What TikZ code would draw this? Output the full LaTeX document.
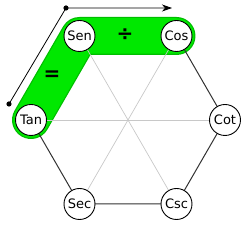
\documentclass[tikz,border=0pt]{standalone}
\usepackage{fontspec}
\setmainfont{DejaVu Sans}
\usetikzlibrary{arrows.meta}
\definecolor{bandgreen}{RGB}{0,232,0}
\definecolor{bandedge}{RGB}{0,190,0}
\definecolor{edgegray}{RGB}{50,50,50}
\definecolor{innergray}{RGB}{200,200,200}
\begin{document}
\begin{tikzpicture}[x=1pt,y=1pt,
  fn/.style={circle,draw=black,fill=white,line width=0.9pt,minimum size=31pt,inner sep=0pt,font=\fontsize{13}{15}\selectfont},
  hexedge/.style={draw=edgegray,line width=1pt},
  inner/.style={draw=innergray,line width=0.7pt},
  sign/.style={font=\fontsize{20}{22}\selectfont\bfseries}]
\useasboundingbox (0,0) rectangle (250,227);
% positions
\coordinate (pSen) at (79.5,191);
\coordinate (pCos) at (176.5,191);
\coordinate (pTan) at (31,107);
\coordinate (pCot) at (225,107);
\coordinate (pSec) at (79.5,23);
\coordinate (pCsc) at (176.5,23);
% green band
\draw[bandedge,line width=38pt,line cap=round,line join=round] (pTan) -- (pSen) -- (pCos);
\draw[bandgreen,line width=35.5pt,line cap=round,line join=round] (pTan) -- (pSen) -- (pCos);
% inner lines
\draw[inner] (pSen) -- (pCsc);
\draw[inner] (pCos) -- (pSec);
\draw[inner] (pTan) -- (pCot);
% hexagon edges
\draw[hexedge] (pCos) -- (pCot) -- (pCsc) -- (pSec) -- (pTan);
% nodes
\node[fn] (Sen) at (pSen) {Sen};
\node[fn] (Cos) at (pCos) {Cos};
\node[fn] (Tan) at (pTan) {Tan};
\node[fn] (Cot) at (pCot) {Cot};
\node[fn] (Sec) at (pSec) {Sec};
\node[fn] (Csc) at (pCsc) {Csc};
% signs
\node[sign] (div) at (125,192) {÷};
\node[sign] (eq) at (52,151) {=};
% arrow
\coordinate (a0) at (9,123);
\coordinate (a1) at (66,219);
\coordinate (a2) at (172,219);
\draw[line width=0.8pt,-{Stealth[length=10pt,width=7pt,inset=3pt]}] (a0) -- (a1) -- (a2);
\fill (a0) circle (2.6pt);
\fill (a1) circle (2.6pt);
\end{tikzpicture}
\end{document}
